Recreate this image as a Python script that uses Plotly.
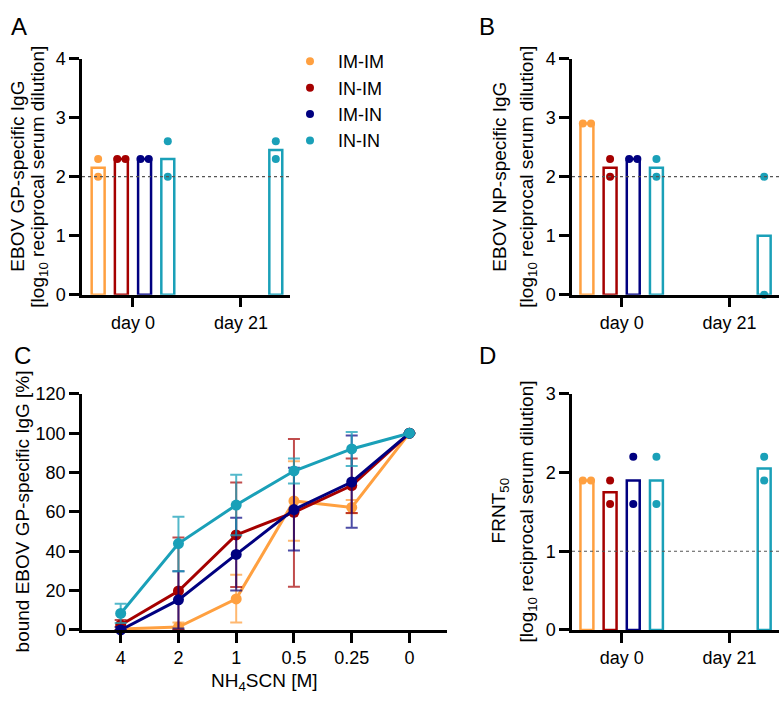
import plotly.graph_objects as go

W, H = 783, 708
FONT = "Liberation Sans, Arial, sans-serif"

groups = ["IM-IM", "IN-IM", "IM-IN", "IN-IN"]
colors = ["#FFA040", "#A50000", "#000080", "#1AA0B8"]
err_colors = ["rgba(255,160,64,0.75)", "rgba(165,0,0,0.7)", "rgba(0,0,128,0.7)", "rgba(26,160,184,0.75)"]
days = ["day 0", "day 21"]

# Panel A: EBOV GP-specific IgG (bar = mean, points = individual animals)
A_bar = [[2.15, None], [2.3, None], [2.3, None], [2.3, 2.45]]
A_pts = [[[2.3, 2.0], []], [[2.3, 2.3], []], [[2.3, 2.3], []], [[2.6, 2.0], [2.6, 2.3]]]
# Panel B: EBOV NP-specific IgG
B_bar = [[2.9, None], [2.15, None], [2.3, None], [2.15, 1.0]]
B_pts = [[[2.9, 2.9], []], [[2.3, 2.0], []], [[2.3, 2.3], []], [[2.3, 2.0], [2.0, 0.0]]]
# Panel D: FRNT50
D_bar = [[1.9, None], [1.75, None], [1.9, None], [1.9, 2.05]]
D_pts = [[[1.9, 1.9], []], [[1.9, 1.6], []], [[2.2, 1.6], []], [[2.2, 1.6], [2.2, 1.9]]]

# Panel C: avidity (NH4SCN)
C_conc = ["4", "2", "1", "0.5", "0.25", "0"]
C_mean = [
    [0.5, 1.5, 15.8, 65.6, 62.3, 100],
    [2.5, 19.8, 48.3, 59.8, 73.4, 100],
    [0.0, 15.3, 38.4, 61.2, 75.2, 100],
    [8.4, 43.9, 63.5, 80.8, 92.0, 100],
]
C_err_up = [
    [1.0, 2.3, 12.3, 20.2, 3.7, 0],
    [2.6, 27.2, 26.7, 37.2, 13.7, 0],
    [1.5, 14.6, 18.6, 21.2, 23.6, 0],
    [4.9, 13.6, 15.4, 6.3, 8.6, 0],
]
C_err_dn = [
    [0.5, 1.5, 12.0, 20.3, 3.0, 0],
    [2.5, 19.8, 26.5, 37.8, 13.9, 0],
    [0.0, 14.6, 18.4, 20.8, 23.3, 0],
    [4.9, 14.0, 15.3, 6.4, 8.7, 0],
]

SLOT = 0.215   # spacing between grouped bars (x data units)
BARW = 0.12    # bar width
JIT = 0.038    # horizontal offset for identical replicate points

fig = go.Figure()


def add_bar_panel(bars, pts, xa, ya, legend):
    for g, name in enumerate(groups):
        off = (g - 1.5) * SLOT
        bx, by = [], []
        for d in range(len(days)):
            if bars[g][d] is not None:
                bx.append(d + off)
                by.append(bars[g][d])
        fig.add_trace(go.Bar(
            x=bx, y=by, width=BARW, xaxis=xa, yaxis=ya,
            marker=dict(color="rgba(255,255,255,0)", line=dict(color=colors[g], width=2.5)),
            showlegend=False, hoverinfo="skip"))
        px, py = [], []
        for d in range(len(days)):
            vals = pts[g][d]
            if not vals:
                continue
            same = len(vals) == 2 and vals[0] == vals[1]
            for k, v in enumerate(vals):
                j = (-JIT if k == 0 else JIT) if same else 0.0
                px.append(d + off + j)
                py.append(v)
        fig.add_trace(go.Scatter(
            x=px, y=py, mode="markers", xaxis=xa, yaxis=ya, name=name,
            marker=dict(color=colors[g], size=8), cliponaxis=False,
            showlegend=legend))


add_bar_panel(A_bar, A_pts, "x", "y", True)
add_bar_panel(B_bar, B_pts, "x2", "y2", False)
add_bar_panel(D_bar, D_pts, "x4", "y4", False)

for g, name in enumerate(groups):
    fig.add_trace(go.Scatter(
        x=list(range(len(C_conc))), y=C_mean[g], mode="lines+markers",
        xaxis="x3", yaxis="y3", name=name, showlegend=False, cliponaxis=False,
        line=dict(color=colors[g], width=3),
        marker=dict(color=colors[g], size=11),
        error_y=dict(type="data", symmetric=False, array=C_err_up[g], arrayminus=C_err_dn[g],
                     color=err_colors[g], thickness=2, width=6)))


def dom_x(a, b):
    return [a / W, b / W]


def dom_y(top, bottom):
    return [1 - bottom / H, 1 - top / H]


axis_common = dict(showline=True, linewidth=2.5, linecolor="black", ticks="outside",
                   ticklen=10, tickwidth=2.5, tickcolor="black", showgrid=False,
                   zeroline=False, tickfont=dict(family=FONT, size=18, color="black"))

fig.update_layout(
    width=W, height=H, margin=dict(l=0, r=0, t=0, b=0),
    paper_bgcolor="white", plot_bgcolor="white", barmode="overlay",
    font=dict(family=FONT, size=18, color="black"),
    xaxis=dict(domain=dom_x(82, 290), range=[-0.472, 1.454], tickvals=[0, 1], ticktext=days, anchor="y", **axis_common),
    yaxis=dict(domain=dom_y(50, 293), range=[0, 4], dtick=1, anchor="x", **axis_common),
    xaxis2=dict(domain=dom_x(572, 779), range=[-0.461, 1.46], tickvals=[0, 1], ticktext=days, anchor="y2", **axis_common),
    yaxis2=dict(domain=dom_y(50, 293), range=[0, 4], dtick=1, anchor="x2", **axis_common),
    xaxis3=dict(domain=dom_x(82, 447), range=[-0.67, 5.65], tickvals=list(range(len(C_conc))), ticktext=C_conc, anchor="y3", **axis_common),
    yaxis3=dict(domain=dom_y(395, 638), range=[0, 120], dtick=20, anchor="x3", **axis_common),
    xaxis4=dict(domain=dom_x(572, 779), range=[-0.461, 1.46], tickvals=[0, 1], ticktext=days, anchor="y4", **axis_common),
    yaxis4=dict(domain=dom_y(395, 638), range=[0, 3], dtick=1, anchor="x4", **axis_common),
    legend=dict(x=282 / W, y=1 - 34 / H, xanchor="left", yanchor="top", itemwidth=46,
                tracegroupgap=0, font=dict(family=FONT, size=18, color="black"),
                bgcolor="rgba(0,0,0,0)"),
)

# dotted detection-limit lines
for xr, yr, yv in [("x", "y", 2), ("x2", "y2", 2), ("x4", "y4", 1)]:
    fig.add_shape(type="line", xref=xr + " domain", yref=yr, x0=0, x1=1, y0=yv, y1=yv,
                  line=dict(color="#555555", width=1.2, dash="dot"))

ann = []


def label(text, x, y, size=19, angle=0, xanchor="center"):
    ann.append(dict(text=text, x=x / W, y=1 - y / H, xref="paper", yref="paper",
                    showarrow=False, textangle=angle, xanchor=xanchor, yanchor="middle",
                    font=dict(family=FONT, size=size, color="black")))


# panel letters
label("A", 9, 17, size=24, xanchor="left")
label("B", 477, 17, size=24, xanchor="left")
label("C", 12, 356, size=24, xanchor="left")
label("D", 477, 356, size=24, xanchor="left")

# y-axis titles
label("EBOV GP-specific IgG", 18, 171.5, angle=-90)
label("[log<sub>10</sub> reciprocal serum dilution]", 39, 171.5, angle=-90)
label("EBOV NP-specific IgG", 500, 171.5, angle=-90)
label("[log<sub>10</sub> reciprocal serum dilution]", 528, 171.5, angle=-90)
label("bound EBOV GP-specific IgG [%]", 22, 516, angle=-90)
label("FRNT<sub>50</sub>", 500, 516, angle=-90)
label("[log<sub>10</sub> reciprocal serum dilution]", 528, 516, angle=-90)
# x-axis title panel C
label("NH<sub>4</sub>SCN [M]", 264, 692)

fig.update_layout(annotations=ann)
fig.write_html("out.html")
